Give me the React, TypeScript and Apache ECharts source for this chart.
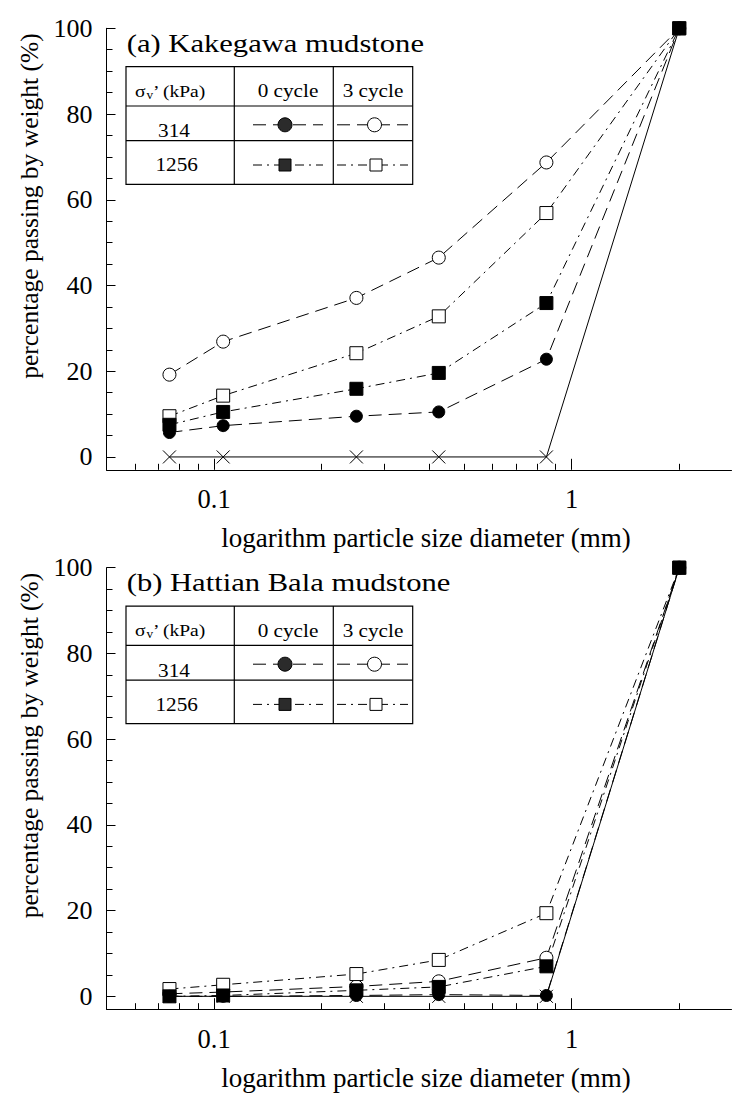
import React, { useEffect, useRef } from "react";
import * as echarts from "echarts";

// ---------------- data ----------------
const sieveSizes = [0.075, 0.106, 0.25, 0.425, 0.85, 2.0]; // mm

// (a) Kakegawa mudstone
const kakeOriginal = [0, 0, 0, 0, 0, 100];
const kake314Cycle0 = [5.7, 7.3, 9.5, 10.5, 22.8, 100];
const kake314Cycle3 = [19.2, 26.9, 37.1, 46.5, 68.7, 100];
const kake1256Cycle0 = [7.5, 10.5, 15.9, 19.6, 35.9, 100];
const kake1256Cycle3 = [9.5, 14.3, 24.2, 32.8, 56.9, 100];

// (b) Hattian Bala mudstone
const hattOriginal = [0, 0, 0, 0, 0, 100];
const hatt314Cycle0 = [0, 0, 0.2, 0.4, 0.2, 100];
const hatt314Cycle3 = [0.6, 1.0, 2.3, 3.5, 9.0, 100];
const hatt1256Cycle0 = [0, 0.2, 1.4, 2.2, 7.0, 100];
const hatt1256Cycle3 = [1.7, 2.7, 5.2, 8.5, 19.4, 100];

const yLabelTicks = [0, 20, 40, 60, 80, 100];
const yMinorTicks = [5, 10, 15, 25, 30, 35, 45, 50, 55, 65, 70, 75, 85, 90, 95];
const xLabelTicks = [0.1, 1];
const xMinorTicks = [0.06, 0.07, 0.08, 0.09, 0.2, 0.3, 0.4, 0.5, 0.6, 0.7, 0.8, 0.9, 2];

const panelTitles = ["(a) Kakegawa mudstone", "(b) Hattian Bala mudstone"];
const xAxisTitle = "logarithm particle size diameter (mm)";
const yAxisTitle = "percentage passing by weight (%)";
const legendSigma = "σ";
const legendSub = "v";
const legendUnit = "’ (kPa)";
const legendCycles = ["0 cycle", "3 cycle"];
const legendStress = ["314", "1256"];

// ---------------- layout ----------------
const W = 736;
const H = 1095;
const SERIF = "Liberation Serif";
const GRID_LEFT = 106.5;
const GRID_WIDTH = 625;
const GRID_TOPS = [28.3, 567.7];
const GRID_HEIGHT = 441.5;
const X_MIN = 0.05;
const X_MAX = 2.8;
const Y_MIN = -3;
const Y_MAX = 100;
const TEXT_STRETCH = 1.18;

const DASH_LONG = [13, 7];
const DASH_DOT = [9, 5, 2, 5];

const lg = (v: number) => Math.log10(v);

function makeSeries(gi: number, name: string, values: number[], symbol: string, fill: string, dash: any, size: number) {
  return {
    type: "line",
    name,
    xAxisIndex: gi * 2,
    yAxisIndex: gi * 2,
    data: sieveSizes.map((s, i) => [lg(s), values[i]]),
    symbol,
    symbolSize: size,
    showSymbol: true,
    clip: false,
    lineStyle: { color: "#000", width: 1, type: dash },
    itemStyle: { color: fill, borderColor: "#000", borderWidth: 1 },
    emphasis: { disabled: true },
  };
}

const CROSS = "path://M0,0L10,10M10,0L0,10";

function panelSeries(gi: number, orig: number[], c0314: number[], c3314: number[], c01256: number[], c31256: number[]) {
  return [
    makeSeries(gi, "original", orig, CROSS, "transparent", "solid", 13),
    makeSeries(gi, "314 kPa 3 cycle", c3314, "circle", "#fff", DASH_LONG, 13),
    makeSeries(gi, "1256 kPa 3 cycle", c31256, "rect", "#fff", DASH_DOT, 13),
    makeSeries(gi, "1256 kPa 0 cycle", c01256, "rect", "#000", DASH_DOT, 13),
    makeSeries(gi, "314 kPa 0 cycle", c0314, "circle", "#000", DASH_LONG, 12),
  ];
}

function axesFor(gi: number) {
  const common = { gridIndex: gi, type: "value" };
  const xMajor = {
    ...common,
    position: "bottom",
    min: lg(X_MIN),
    max: lg(X_MAX),
    name: xAxisTitle,
    nameLocation: "middle",
    nameGap: 55,
    nameTextStyle: { fontSize: 27, fontFamily: SERIF, color: "#000", padding: [0, 0, 0, 14] },
    axisLine: { show: true, onZero: false, lineStyle: { color: "#000", width: 1 } },
    axisTick: { show: true, inside: true, length: 11, customValues: xLabelTicks.map(lg), lineStyle: { color: "#000" } },
    axisLabel: {
      show: true,
      customValues: xLabelTicks.map(lg),
      formatter: (v: number) => String(Number(Math.pow(10, v).toPrecision(2))),
      fontSize: 26.5,
      fontFamily: SERIF,
      color: "#000",
      margin: 16,
    },
    splitLine: { show: false },
  };
  const xMinor = {
    ...common,
    position: "bottom",
    min: lg(X_MIN),
    max: lg(X_MAX),
    axisLine: { show: false, onZero: false },
    axisTick: { show: true, inside: true, length: 6, customValues: xMinorTicks.map(lg), lineStyle: { color: "#000" } },
    axisLabel: { show: false },
    splitLine: { show: false },
  };
  const yMajor = {
    ...common,
    position: "left",
    min: Y_MIN,
    max: Y_MAX,
    name: yAxisTitle,
    nameLocation: "middle",
    nameGap: 62,
    nameTextStyle: { fontSize: 25.5, fontFamily: SERIF, color: "#000", padding: [0, 0, 0, 86] },
    axisLine: { show: true, onZero: false, lineStyle: { color: "#000", width: 1 } },
    axisTick: { show: true, inside: true, length: 9, customValues: yLabelTicks, lineStyle: { color: "#000" } },
    axisLabel: {
      show: true,
      customValues: yLabelTicks,
      fontSize: 26,
      fontFamily: SERIF,
      color: "#000",
      margin: 14,
    },
    splitLine: { show: false },
  };
  const yMinor = {
    ...common,
    position: "left",
    min: Y_MIN,
    max: Y_MAX,
    axisLine: { show: false, onZero: false },
    axisTick: { show: true, inside: true, length: 6, customValues: yMinorTicks, lineStyle: { color: "#000" } },
    axisLabel: { show: false },
    splitLine: { show: false },
  };
  return { x: [xMajor, xMinor], y: [yMajor, yMinor] };
}

function txt(x: number, y: number, text: string, size: number, align = "center", stretch = TEXT_STRETCH) {
  return {
    type: "text",
    x,
    y,
    scaleX: stretch,
    silent: true,
    z: 20,
    style: {
      text,
      fontSize: size,
      fontFamily: SERIF,
      fill: "#000",
      align,
      textAlign: align,
      verticalAlign: "middle",
      textVerticalAlign: "middle",
    },
  };
}

function hline(x1: number, x2: number, y: number, dash: any = null, w = 1.2) {
  return {
    type: "line",
    silent: true,
    z: 20,
    shape: { x1, y1: y, x2, y2: y },
    style: { stroke: "#000", lineWidth: w, lineDash: dash },
  };
}

function vline(x: number, y1: number, y2: number) {
  return {
    type: "line",
    silent: true,
    z: 20,
    shape: { x1: x, y1, x2: x, y2 },
    style: { stroke: "#000", lineWidth: 1.2 },
  };
}

function panelGraphics(gi: number) {
  const t = GRID_TOPS[gi];
  const tl = 126;
  const tr = 412.7;
  const tt = t + 38.4;
  const tb = t + 156;
  const h1 = t + 77.7;
  const h2 = t + 112.4;
  const v1 = 234.3;
  const v2 = 333.3;
  const r1 = t + 96.5;
  const r2 = t + 136.7;
  const els: any[] = [];
  els.push(txt(126.7, t + 15, panelTitles[gi], 25.5, "left", 1.2));
  els.push({
    type: "rect",
    silent: true,
    z: 19,
    shape: { x: tl, y: tt, width: tr - tl, height: tb - tt },
    style: { fill: "#fff", stroke: "#000", lineWidth: 1.2 },
  });
  els.push(hline(tl, tr, h1));
  els.push(hline(tl, tr, h2));
  els.push(vline(v1, tt, tb));
  els.push(vline(v2, tt, tb));
  // header
  els.push(txt(135, t + 62.7, legendSigma, 17, "left", 1.15));
  els.push(txt(146.5, t + 67, legendSub, 11.5, "left", 1.15));
  els.push(txt(153, t + 62.7, legendUnit, 17, "left", 1.15));
  els.push(txt(288, t + 62.7, legendCycles[0], 18, "center"));
  els.push(txt(373, t + 62.7, legendCycles[1], 18, "center"));
  els.push(txt(174, t + 102.7, legendStress[0], 18, "center"));
  els.push(txt(176.7, t + 136.4, legendStress[1], 18, "center"));
  // row 1: 314 kPa, long dash, circles
  els.push(hline(253, 323, r1, DASH_LONG, 1));
  els.push(hline(337, 408, r1, DASH_LONG, 1));
  els.push({ type: "circle", silent: true, z: 21, shape: { cx: 285, cy: r1, r: 7 }, style: { fill: "#2b2b2b", stroke: "#000", lineWidth: 1 } });
  els.push({ type: "circle", silent: true, z: 21, shape: { cx: 374.5, cy: r1, r: 7 }, style: { fill: "#fff", stroke: "#000", lineWidth: 1 } });
  // row 2: 1256 kPa, dash-dot, squares
  els.push(hline(253, 323, r2, DASH_DOT, 1));
  els.push(hline(337, 408, r2, DASH_DOT, 1));
  els.push({ type: "rect", silent: true, z: 21, shape: { x: 279, y: r2 - 6, width: 12, height: 12 }, style: { fill: "#2b2b2b", stroke: "#000", lineWidth: 1 } });
  els.push({ type: "rect", silent: true, z: 21, shape: { x: 370, y: r2 - 6, width: 12, height: 12 }, style: { fill: "#fff", stroke: "#000", lineWidth: 1 } });
  return els;
}

export default function App() {
  const ref = useRef<HTMLDivElement>(null);
  useEffect(() => {
    document.body.style.margin = "0";
    if (!ref.current) return;
    const chart = echarts.init(ref.current, null, { renderer: "svg" });
    const a0 = axesFor(0);
    const a1 = axesFor(1);
    const option: any = {
      animation: false,
      backgroundColor: "#fff",
      textStyle: { fontFamily: SERIF },
      grid: [
        { left: GRID_LEFT, top: GRID_TOPS[0], width: GRID_WIDTH, height: GRID_HEIGHT, containLabel: false, outerBoundsMode: "none" },
        { left: GRID_LEFT, top: GRID_TOPS[1], width: GRID_WIDTH, height: GRID_HEIGHT, containLabel: false, outerBoundsMode: "none" },
      ],
      xAxis: [...a0.x, ...a1.x],
      yAxis: [...a0.y, ...a1.y],
      series: [
        ...panelSeries(0, kakeOriginal, kake314Cycle0, kake314Cycle3, kake1256Cycle0, kake1256Cycle3),
        ...panelSeries(1, hattOriginal, hatt314Cycle0, hatt314Cycle3, hatt1256Cycle0, hatt1256Cycle3),
      ],
      graphic: [...panelGraphics(0), ...panelGraphics(1)],
    };
    chart.setOption(option);
    return () => chart.dispose();
  }, []);
  return <div ref={ref} style={{ width: W, height: H }} />;
}
